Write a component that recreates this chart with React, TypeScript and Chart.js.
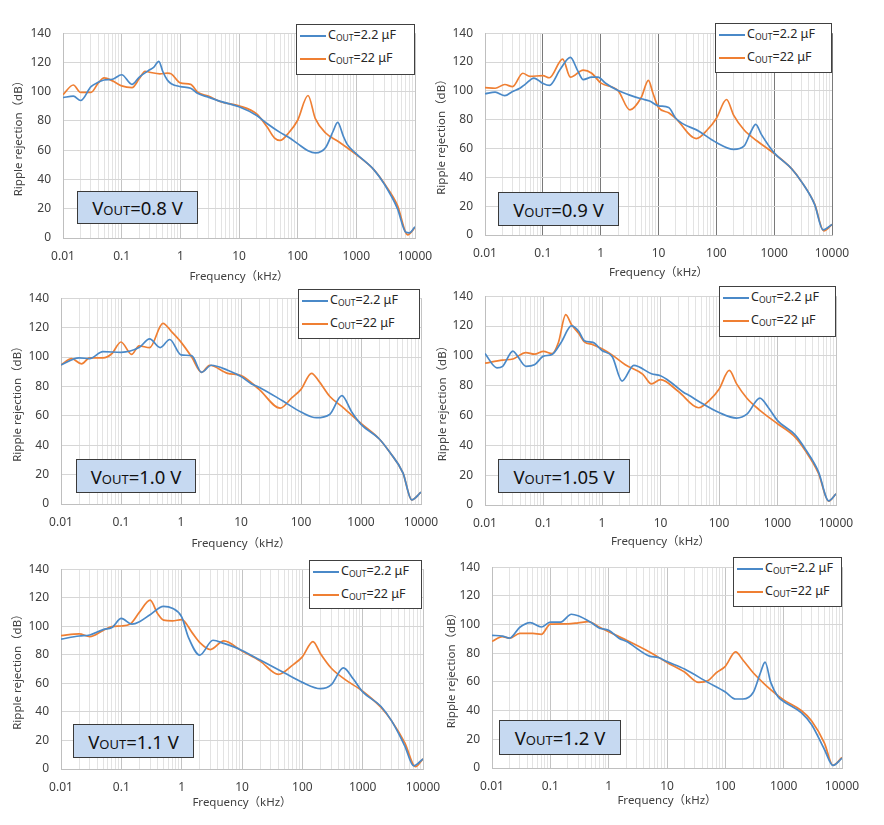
import React, { useEffect, useRef } from 'react';
import { Chart, registerables } from 'chart.js';

Chart.register(...registerables);

// ---------- text / ticks ----------
const xTickValues = [0.01, 0.1, 1, 10, 100, 1000, 10000];
const xTickLabels = ['0.01', '0.1', '1', '10', '100', '1000', '10000'];
const xMinorMultipliers = [1, 2, 3, 4, 5, 6, 7, 8, 9];
const yTickMin = 0;
const yTickMax = 140;
const yTickStep = 20;
const xAxisTitle = 'Frequency（kHz）';
const yAxisTitle = 'Ripple rejection（dB）';
const seriesCapValues = ['2.2 μF', '22 μF'];
const voutLabels = ['0.8 V', '0.9 V', '1.0 V', '1.05 V', '1.1 V', '1.2 V'];

// ---------- data (frequency kHz, rejection dB) ----------
// VOUT = 0.8 V
const f08_22u = [0.01, 0.015, 0.02, 0.03, 0.04, 0.05, 0.07, 0.1, 0.15, 0.2, 0.3, 0.35, 0.43, 0.5, 0.6, 0.7, 1, 1.5, 2, 3, 5, 10, 20, 30, 50, 70, 100, 150, 200, 300, 400, 480, 600, 700, 1000, 2000, 3000, 5000, 7000, 8000, 10000];
const db08_22u = [96, 97, 94, 103.5, 106.5, 108, 108.5, 111.6, 105, 110, 115, 116.6, 120.8, 114, 108, 105.5, 103.5, 102.4, 98.7, 96.3, 93.2, 89.7, 83.8, 78.3, 72.2, 68.9, 64.5, 59.7, 58.2, 61.9, 72.8, 79, 69.6, 64, 57.5, 46.6, 36.8, 20.3, 3.9, 3.5, 7.7];
const f08_220u = [0.01, 0.015, 0.02, 0.03, 0.04, 0.05, 0.07, 0.1, 0.15, 0.2, 0.25, 0.3, 0.45, 0.6, 0.7, 1, 1.5, 2, 3, 5, 10, 20, 30, 40, 50, 70, 100, 150, 200, 300, 500, 1000, 2000, 3000, 5000, 7500, 10000];
const db08_220u = [98, 104.6, 99.5, 99.5, 106, 109.4, 107.4, 104, 102.8, 109, 114, 113.3, 112.2, 112.7, 112.2, 106, 105, 99.5, 97, 93, 90.4, 84.9, 76, 68.5, 66.7, 71.8, 80.5, 97.4, 81.6, 71.8, 65.8, 57, 46.6, 37.2, 22.5, 2.2, 7.2];

// VOUT = 0.9 V
const f09_22u = [0.01, 0.015, 0.022, 0.03, 0.04, 0.05, 0.07, 0.1, 0.13, 0.2, 0.3, 0.4, 0.5, 0.7, 0.9, 1.2, 2, 3, 5, 7, 10, 15, 20, 50, 100, 200, 300, 400, 480, 600, 1000, 2000, 3000, 5000, 7000, 10000];
const db09_22u = [98, 99.1, 96.7, 99.6, 101.8, 104.7, 108.9, 105.2, 103.8, 115, 123.2, 114, 107.8, 109.5, 109.5, 105.5, 100.2, 97.4, 94.5, 93, 89.6, 88.5, 80.8, 72, 64.2, 59.4, 61.6, 72, 76.8, 69.8, 57, 46, 36.7, 21.2, 3.5, 7.3];
const f09_220u = [0.01, 0.015, 0.022, 0.03, 0.045, 0.06, 0.1, 0.13, 0.22, 0.3, 0.5, 0.7, 1, 2, 3.2, 5, 6.7, 8, 10, 15, 20, 45, 70, 100, 150, 200, 300, 500, 1000, 2000, 3000, 5000, 7200, 10000];
const db09_220u = [102.2, 101.8, 104.4, 102.9, 112.2, 110, 110.6, 109.1, 122, 109.5, 114.4, 112.2, 105.5, 100.2, 86.8, 95.2, 107.3, 98.5, 88.5, 84.8, 80.8, 66.9, 73, 80.8, 94, 83, 73, 65.4, 56.5, 46, 36.7, 21.6, 2.9, 7.3];

// VOUT = 1.0 V
const f10_22u = [0.01, 0.02, 0.03, 0.05, 0.1, 0.2, 0.3, 0.45, 0.65, 1, 1.5, 2.2, 3.2, 6, 10, 15, 20, 50, 100, 180, 300, 480, 700, 1000, 2000, 3000, 5000, 7000, 10000];
const db10_22u = [94.6, 99.4, 98.9, 103.6, 103.2, 106.4, 112.3, 106.4, 111.9, 101.4, 100.9, 89.6, 94.4, 91, 86.7, 81.7, 79.5, 70, 62.6, 58.7, 60.9, 73.7, 62.6, 54.2, 44.4, 35.3, 21.2, 2.8, 8];
const f10_220u = [0.01, 0.015, 0.022, 0.03, 0.05, 0.07, 0.1, 0.15, 0.2, 0.3, 0.5, 0.7, 1, 1.5, 2.2, 3, 6, 10, 20, 45, 70, 100, 150, 200, 300, 500, 1000, 2000, 3000, 5000, 7000, 10000];
const db10_220u = [94.6, 98.9, 95.3, 99.4, 99.4, 102.2, 110.2, 101.8, 107.6, 106.4, 122.9, 117.1, 110.1, 100.1, 89.6, 94.4, 88.9, 87.4, 78, 65.2, 72.2, 78, 88.9, 83.4, 73.3, 65.7, 54.8, 44.4, 35.3, 21.2, 2.8, 8];

// VOUT = 1.05 V
const f105_22u = [0.01, 0.016, 0.02, 0.03, 0.035, 0.05, 0.07, 0.1, 0.14, 0.2, 0.3, 0.4, 0.5, 0.7, 1, 1.5, 2.2, 3.5, 7, 10, 15, 25, 30, 50, 100, 200, 300, 500, 700, 1000, 2000, 3000, 5000, 7500, 10000];
const db105_22u = [101.5, 92, 93, 103.2, 100.5, 93, 94, 99.8, 100.9, 109, 120.1, 116.5, 110.1, 109, 103.6, 99.4, 83.1, 93.6, 88, 86.6, 82.3, 75.4, 73.7, 68.4, 62, 58.3, 60.9, 71.6, 65.2, 56.6, 47, 37.4, 22.4, 2.8, 7.5];
const f105_220u = [0.01, 0.02, 0.03, 0.05, 0.07, 0.1, 0.14, 0.18, 0.24, 0.3, 0.4, 0.5, 0.7, 1, 1.5, 2.5, 5, 7, 10, 20, 45, 70, 100, 150, 200, 300, 500, 1000, 2000, 3000, 5000, 7500, 10000];
const db105_220u = [95.1, 97.2, 97.9, 102.2, 101.1, 103, 101.5, 109, 127.6, 121, 115, 109.4, 107.5, 104.7, 100.5, 94, 87.6, 81.2, 84, 76.3, 65.2, 70.5, 77.6, 90.2, 81.2, 71.6, 63.5, 54.5, 45.5, 36.3, 21.4, 2.6, 7.5];

// VOUT = 1.1 V
const f11_22u = [0.01, 0.02, 0.03, 0.05, 0.07, 0.1, 0.15, 0.2, 0.3, 0.5, 0.7, 1, 1.3, 2, 3.3, 5, 10, 20, 50, 100, 200, 300, 480, 700, 1000, 2000, 3000, 5000, 7000, 10000];
const db11_22u = [91, 93.2, 93.9, 97.7, 99.2, 105.5, 101.5, 103.2, 108.1, 113.9, 112.6, 106.6, 92.1, 79.8, 90.2, 88, 83.1, 76.3, 67.4, 60.7, 56.3, 58.9, 70.8, 63, 54, 44, 33.9, 16.1, 2.2, 7.1];
const f11_220u = [0.01, 0.02, 0.03, 0.05, 0.07, 0.1, 0.14, 0.2, 0.3, 0.4, 0.5, 0.7, 1, 1.5, 2, 3, 5, 10, 20, 40, 70, 100, 150, 200, 300, 500, 1000, 2000, 3000, 5000, 7500, 10000];
const db11_220u = [93.5, 94.7, 92.7, 97.1, 99.8, 100.2, 101.5, 109.9, 118.3, 108.8, 104.3, 103.8, 104.7, 95.4, 88.6, 83.7, 89.8, 82.6, 75.6, 66.3, 73, 78.6, 89.3, 80.8, 70.8, 63, 54.5, 43.3, 33.9, 18.3, 1.6, 7.1];

// VOUT = 1.2 V
const f12_22u = [0.01, 0.015, 0.02, 0.03, 0.045, 0.07, 0.1, 0.15, 0.23, 0.3, 0.5, 0.7, 1, 1.5, 2, 5, 7, 10, 20, 50, 100, 150, 200, 300, 400, 480, 600, 800, 1000, 2000, 3000, 5000, 7000, 10000];
const db12_22u = [92.5, 92, 90.5, 98.1, 101.4, 98.3, 101.7, 101.7, 107.2, 106.1, 101.4, 97.5, 96.1, 90.5, 88.3, 78, 77.1, 74.2, 69, 59.7, 53, 48.1, 48.1, 52.6, 66.4, 73.8, 59.7, 49.7, 46.4, 38.6, 30.3, 12.9, 1.8, 6.9];
const f12_220u = [0.01, 0.015, 0.02, 0.03, 0.05, 0.07, 0.1, 0.2, 0.3, 0.45, 0.7, 1, 2, 5, 10, 20, 35, 50, 70, 100, 150, 200, 300, 500, 1000, 2000, 3000, 5000, 7000, 10000];
const db12_220u = [88.3, 91.6, 90.5, 93.8, 93.8, 93.2, 100.3, 100.5, 101.2, 102.1, 98.1, 95, 89.2, 80.9, 73.6, 66.9, 59.7, 60.8, 66.4, 70.9, 80.9, 75.3, 66.4, 57.5, 47.5, 40.1, 33, 17.4, 1.8, 7.4];

// ---------- styling ----------
const FONT = '"Noto Sans", "Noto Sans CJK JP", sans-serif';
const BLUE = '#4a89c8';
const ORANGE = '#ef7f33';
const TEXT = '#404040';
const MINOR = '#e3e3e3';
const HGRID = '#d6d6d6';
const AXIS = '#bfbfbf';
const Y_AXIS_W = 60;
const X_AXIS_H = 50;
const PAD_T = 10;
const PAD_R = 30;
const TICK_SIZE = 12;
const TITLE_SIZE = 11.5;
const TITLE_LH = TITLE_SIZE * 1.2;

const panelData = [
  { vout: voutLabels[0], bf: f08_22u, bd: db08_22u, of: f08_220u, od: db08_220u },
  { vout: voutLabels[1], bf: f09_22u, bd: db09_22u, of: f09_220u, od: db09_220u },
  { vout: voutLabels[2], bf: f10_22u, bd: db10_22u, of: f10_220u, od: db10_220u },
  { vout: voutLabels[3], bf: f105_22u, bd: db105_22u, of: f105_220u, od: db105_220u },
  { vout: voutLabels[4], bf: f11_22u, bd: db11_22u, of: f11_220u, od: db11_220u },
  { vout: voutLabels[5], bf: f12_22u, bd: db12_22u, of: f12_220u, od: db12_220u },
];

// layout: plot area [l,t,r,b], legend box, vout box, title gaps, decade grid colour
const panelLayout = [
  { plot: [63, 24, 415, 238], legend: [296, 24, 119, 51], vbox: [77, 191, 121, 33], yGap: 44, xGap: 39, major: '#c4c4c4' },
  { plot: [485, 24, 832, 235], legend: [715, 23, 117, 50], vbox: [498, 192, 121, 34], yGap: 43, xGap: 38, major: '#7a7a7a' },
  { plot: [61, 289, 421, 504], legend: [298, 289, 122, 50], vbox: [76, 459, 120, 34], yGap: 43, xGap: 40, major: '#c4c4c4' },
  { plot: [485, 287, 836, 505], legend: [719, 286, 117, 51], vbox: [498, 459, 132, 34], yGap: 42, xGap: 37, major: '#c4c4c4' },
  { plot: [61, 560, 423, 769], legend: [309, 560, 113, 49], vbox: [73, 724, 121, 34], yGap: 43, xGap: 34, major: '#c4c4c4' },
  { plot: [492, 558, 842, 768], legend: [733, 557, 109, 50], vbox: [499, 720, 122, 35], yGap: 40, xGap: 33, major: '#c4c4c4' },
];

const allXTicks: number[] = [];
for (let d = 0; d < xTickValues.length - 1; d++) {
  for (const m of xMinorMultipliers) allXTicks.push(Number((m * xTickValues[d]).toPrecision(6)));
}
allXTicks.push(xTickValues[xTickValues.length - 1]);

const decadeIndex = (v: number) => xTickValues.findIndex((t) => Math.abs(t - v) / t < 1e-6);

function Panel({ idx }: { idx: number }) {
  const ref = useRef<HTMLCanvasElement>(null);
  const L = panelLayout[idx];
  const D = panelData[idx];
  const [pl, pt, pr, pb] = L.plot;
  const cLeft = pl - Y_AXIS_W;
  const cTop = pt - PAD_T;
  const cW = pr - pl + Y_AXIS_W + PAD_R;
  const cH = pb - pt + PAD_T + X_AXIS_H;

  useEffect(() => {
    const chart = new Chart(ref.current as HTMLCanvasElement, {
      type: 'line',
      data: {
        datasets: [
          {
            label: seriesCapValues[0],
            data: D.bf.map((x, i) => ({ x, y: D.bd[i] })),
            borderColor: BLUE,
            borderWidth: 1.7,
            pointRadius: 0,
            cubicInterpolationMode: 'monotone',
            fill: false,
          },
          {
            label: seriesCapValues[1],
            data: D.of.map((x, i) => ({ x, y: D.od[i] })),
            borderColor: ORANGE,
            borderWidth: 1.7,
            pointRadius: 0,
            cubicInterpolationMode: 'monotone',
            fill: false,
          },
        ],
      },
      options: {
        animation: false,
        responsive: false,
        maintainAspectRatio: false,
        layout: { padding: { left: 0, top: PAD_T, right: PAD_R, bottom: 0 } },
        plugins: { legend: { display: false }, tooltip: { enabled: false } },
        font: { family: FONT },
        scales: {
          x: {
            type: 'logarithmic',
            min: xTickValues[0],
            max: xTickValues[xTickValues.length - 1],
            afterBuildTicks: (s: any) => {
              s.ticks = allXTicks.map((v) => ({ value: v }));
            },
            afterFit: (s: any) => {
              s.height = X_AXIS_H;
            },
            ticks: {
              autoSkip: false,
              maxRotation: 0,
              minRotation: 0,
              padding: 11,
              color: TEXT,
              font: { family: FONT, size: TICK_SIZE },
              callback: (v: any) => {
                const i = decadeIndex(Number(v));
                return i >= 0 ? xTickLabels[i] : '';
              },
            },
            grid: {
              drawTicks: false,
              lineWidth: 1,
              color: (c: any) => (c.tick && decadeIndex(c.tick.value) >= 0 ? L.major : MINOR),
            },
            border: { color: AXIS },
            title: {
              display: true,
              text: xAxisTitle,
              color: TEXT,
              font: { family: FONT, size: TITLE_SIZE },
              padding: { top: 0, bottom: X_AXIS_H - L.xGap - TITLE_LH / 2 },
            },
          },
          y: {
            type: 'linear',
            min: yTickMin,
            max: yTickMax,
            afterFit: (s: any) => {
              s.width = Y_AXIS_W;
            },
            ticks: {
              stepSize: yTickStep,
              padding: 12,
              color: TEXT,
              font: { family: FONT, size: TICK_SIZE },
            },
            grid: { drawTicks: false, color: HGRID, lineWidth: 1 },
            border: { color: AXIS },
            title: {
              display: true,
              text: yAxisTitle,
              color: TEXT,
              font: { family: FONT, size: TITLE_SIZE },
              padding: { top: Y_AXIS_W - L.yGap - TITLE_LH / 2, bottom: 0 },
            },
          },
        },
      } as any,
    });
    return () => chart.destroy();
  }, []);

  const [lx, ly, lw, lh] = L.legend;
  const [vx, vy, vw, vh] = L.vbox;
  const row = (color: string, cap: string, top: number) => (
    <div
      style={{
        position: 'absolute',
        left: 3,
        top,
        height: 0,
        display: 'flex',
        alignItems: 'center',
        whiteSpace: 'nowrap',
      }}
    >
      <div style={{ width: 26, height: 2, background: color }} />
      <span style={{ marginLeft: 2, fontSize: 12.5, color: '#262626', lineHeight: '14px' }}>
        C<span style={{ fontSize: 8.5, verticalAlign: '-2px' }}>OUT</span>={cap}
      </span>
    </div>
  );

  return (
    <>
      <canvas
        ref={ref}
        width={cW}
        height={cH}
        style={{ position: 'absolute', left: cLeft, top: cTop, width: cW, height: cH }}
      />
      <div
        style={{
          position: 'absolute',
          left: lx,
          top: ly,
          width: lw,
          height: lh,
          boxSizing: 'border-box',
          border: '1px solid #404040',
          background: '#ffffff',
          fontFamily: FONT,
        }}
      >
        {row(BLUE, seriesCapValues[0], 11)}
        {row(ORANGE, seriesCapValues[1], 34)}
      </div>
      <div
        style={{
          position: 'absolute',
          left: vx,
          top: vy,
          width: vw,
          height: vh,
          boxSizing: 'border-box',
          border: '1px solid #3a3a3a',
          background: '#c6d9f1',
          display: 'flex',
          alignItems: 'center',
          justifyContent: 'center',
          fontFamily: FONT,
          fontSize: 18.5,
          color: '#111',
          whiteSpace: 'nowrap',
        }}
      >
        <span>
          V<span style={{ fontSize: 13 }}>OUT</span>={D.vout}
        </span>
      </div>
    </>
  );
}

export default function App() {
  return (
    <div
      style={{
        position: 'absolute',
        left: 0,
        top: 0,
        width: 884,
        height: 825,
        background: '#ffffff',
        overflow: 'hidden',
      }}
    >
      {panelData.map((_, i) => (
        <Panel key={i} idx={i} />
      ))}
    </div>
  );
}
